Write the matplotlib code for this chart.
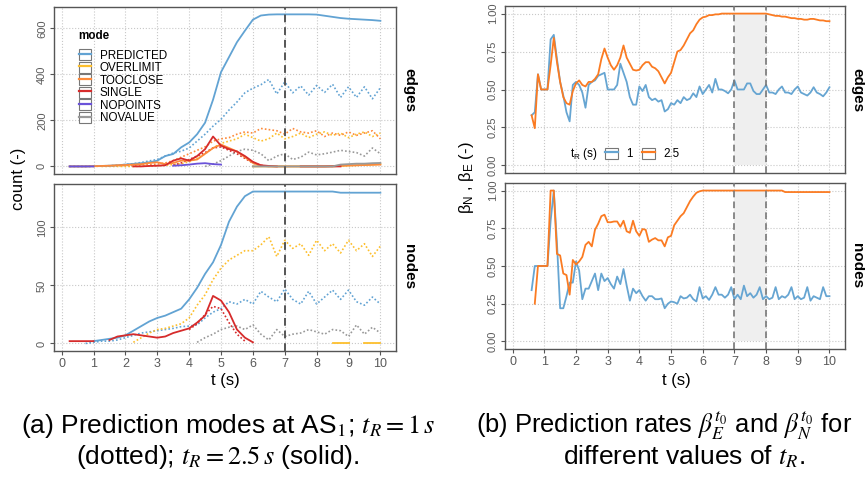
import numpy as np
import matplotlib
matplotlib.use("Agg")
import matplotlib.pyplot as plt
from matplotlib.lines import Line2D
from matplotlib.patches import Rectangle
from matplotlib.legend_handler import HandlerTuple

nan = np.nan

# ---------------- (a) prediction modes, sampled every 0.25 s ----------------
t_a = np.arange(0.25, 10.01, 0.25)

# edges, t_R = 2.5 s (solid)
edges_pred_solid = [0, 0, 0, 1, 2, 3, 5, 8,
                    11, 14, 18, 25, 45, 54, 83, 104,
                    140, 190, 290, 410, 475, 540, 590, 638,
                    656, 660, 661, 661, 661, 661, 661, 660,
                    655, 650, 645, 642, 640, 638, 636, 633]
edges_over_solid = [nan] * 23 + [0, 0, 0, 0, 0, 0, 0, 0, 0,
                                 0, 0, 2, 4, 5, 6, 8, 10]
edges_close_solid = [0, 0, 0, 1, 2, 3, 5, 6,
                     8, 10, 15, 18, 10, 15, 25, 25,
                     30, 55, 80, 95, 80, 65, 40, 15,
                     3, 0, 0, 0, 0, 0, 0, 0,
                     0, 2, 3, 4, 5, 6, 7, 8]
edges_single_solid = [nan] * 8 + [0, 0, 2, 3, 5, 25, 35, 25,
                                  45, 75, 130, 90, 75, 65, 45, 20,
                                  5, 2, 0, nan, nan, 0, 0, 0,
                                  0, 0, 0, nan, nan, nan, nan, nan]
edges_nopts_solid = [0, 0, 0, 0] + [nan] * 9 + [3, 5, 8, 12, 14, 10, 8] + [nan] * 20
edges_noval_solid = [nan] * 23 + [0, 0, 0, 0, 0, 0, 0, 0, 0,
                                  0, 0, 8, 10, 12, 12, 14, 15]

# edges, t_R = 1 s (dotted)
edges_pred_dot = [0, 0, 0, 1, 2, 3, 5, 8,
                  12, 17, 24, 30, 45, 58, 66, 80,
                  110, 140, 175, 205, 245, 280, 320, 340,
                  355, 378, 315, 367, 320, 350, 310, 352,
                  322, 357, 300, 346, 300, 346, 294, 342]
edges_over_dot = [nan, nan, nan, nan, 0, 0, 0, 0,
                  0, 1, 2, 3, 5, 8, 12, 20,
                  35, 55, 80, 100, 110, 120, 140, 125,
                  110, 120, 145, 120, 130, 145, 125, 140,
                  150, 135, 145, 125, 140, 150, 130, 145]
edges_close_dot = [0, 0, 0, 0, 1, 2, 3, 4,
                   5, 6, 8, 10, 15, 25, 40, 55,
                   70, 85, 110, 120, 125, 140, 150, 145,
                   165, 160, 155, 140, 165, 150, 145, 155,
                   130, 145, 135, 150, 135, 145, 155, 120]
edges_single_dot = [nan] * 13 + [5, 15, 30, 45, 60, 80, 85, 70, 55, 35, 15,
                                 5, 0] + [nan] * 14
edges_noval_dot = [nan] * 17 + [0, 10, 25, 45, 65, 75, 70,
                                55, 25, 45, 55, 30, 40, 62, 50,
                                55, 62, 70, 65, 60, 45, 80, 55]

# nodes, t_R = 2.5 s (solid)
nodes_pred_solid = [nan, nan, nan, 2, 3, 4, 5, 7,
                    11, 15, 19, 22, 24, 27, 30, 38,
                    48, 60, 70, 85, 105, 118, 127, 131,
                    131, 131, 131, 131, 131, 131, 131, 131,
                    131, 131, 130, 130, 130, 130, 130, 130]
nodes_over_solid = [nan] * 33 + [0, 0, 0, nan, 0, 0, 0]
nodes_single_solid = [2, 2, 2, 2, nan, 3, 6, 7,
                      8, 7, 6, 5, 6, 9, 11, 13,
                      18, 24, 41, 37, 27, 12, 5, 1] + [nan] * 16

# nodes, t_R = 1 s (dotted)
nodes_pred_dot = [nan, nan, 0, 1, 2, 2, 3, 5,
                  7, 9, 10, 11, 12, 13, 14.5, 15,
                  16, 22, 27, 30, 36, 34, 38, 34,
                  45, 40, 36, 47, 38, 34, 45, 34,
                  40, 46, 38, 46, 36, 33, 40, 34]
nodes_over_dot = [nan] * 8 + [1, 5, 9, 12, 13, 15, 17, 22,
                              33, 42, 55, 65, 72, 76, 80, 80,
                              85, 92, 75, 89, 82, 86, 76, 89,
                              80, 86, 78, 89, 80, 86, 75, 84]
nodes_single_dot = [nan] * 15 + [12, 17, 25, 32, 30, 18, 8, 2] + [nan] * 17
nodes_noval_dot = [nan] * 16 + [1, 5, 8, 12, 14, 15, 12, 16,
                                8, 3, 12, 6, 8, 9, 12, 10,
                                8, 12, 11, 6, 16, 8, 14, 9]

modes = ["PREDICTED", "OVERLIMIT", "TOOCLOSE", "SINGLE", "NOPOINTS", "NOVALUE"]
mode_colors = ["#62a3d3", "#fdbf2d", "#fd8a3a", "#d62b2b", "#6a52d9", "#999999"]

# ---------------- (b) prediction rates, sampled every 0.1 s ----------------
t_b = np.arange(0.6, 10.01, 0.1)

edges_rate_1 = [0.33, 0.35, 0.60, 0.50, 0.50, 0.50, 0.83, 0.86, 0.70, 0.55,
                0.46, 0.35, 0.29, 0.53, 0.55, 0.53, 0.48, 0.38, 0.53, 0.55,
                0.56, 0.59, 0.60, 0.61, 0.50, 0.50, 0.50, 0.53, 0.67, 0.61,
                0.55, 0.45, 0.40, 0.40, 0.52, 0.49, 0.53, 0.45, 0.43, 0.44,
                0.42, 0.43, 0.355, 0.37, 0.41, 0.40, 0.43, 0.41, 0.45, 0.43,
                0.44, 0.475, 0.45, 0.52, 0.47, 0.50, 0.53, 0.48, 0.57, 0.50,
                0.50, 0.49, 0.475, 0.50, 0.56, 0.50, 0.50, 0.50, 0.54, 0.54,
                0.49, 0.47, 0.47, 0.50, 0.53, 0.48, 0.48, 0.47, 0.50, 0.52,
                0.48, 0.48, 0.47, 0.50, 0.52, 0.48, 0.47, 0.46, 0.48, 0.515,
                0.48, 0.47, 0.455, 0.48, 0.515]
edges_rate_25 = [0.33, 0.245, 0.60, 0.50, 0.50, 0.50, 0.66, 0.84, 0.68, 0.55,
                 0.45, 0.41, 0.40, 0.49, 0.54, 0.56, 0.53, 0.52, 0.55, 0.55,
                 0.57, 0.60, 0.70, 0.77, 0.71, 0.66, 0.63, 0.66, 0.71, 0.79,
                 0.71, 0.67, 0.63, 0.625, 0.63, 0.66, 0.68, 0.68, 0.65, 0.64,
                 0.62, 0.58, 0.54, 0.58, 0.61, 0.68, 0.75, 0.76, 0.79, 0.83,
                 0.87, 0.89, 0.93, 0.96, 0.975, 0.98, 0.99, 0.99, 0.995, 0.995,
                 1.0, 1.0, 1.0, 1.0, 1.0, 1.0, 1.0, 1.0, 1.0, 1.0,
                 1.0, 1.0, 1.0, 1.0, 1.0, 0.995, 0.99, 0.985, 0.985, 0.98,
                 0.98, 0.975, 0.97, 0.97, 0.965, 0.965, 0.96, 0.96, 0.965, 0.965,
                 0.96, 0.955, 0.955, 0.95, 0.95]
nodes_rate_1 = [0.34, 0.50, 0.50, 0.50, 0.50, 0.50, 0.80, 1.0, 0.65, 0.22,
                0.22, 0.30, 0.39, 0.39, 0.53, 0.47, 0.28, 0.35, 0.35, 0.40,
                0.45, 0.34, 0.45, 0.40, 0.42, 0.38, 0.35, 0.43, 0.38, 0.48,
                0.37, 0.27, 0.35, 0.32, 0.34, 0.30, 0.27, 0.30, 0.30, 0.28,
                0.28, 0.285, 0.22, 0.25, 0.265, 0.26, 0.25, 0.30, 0.285, 0.29,
                0.31, 0.28, 0.265, 0.36, 0.285, 0.30, 0.275, 0.31, 0.36, 0.31,
                0.31, 0.29, 0.31, 0.36, 0.28, 0.31, 0.28, 0.37, 0.30, 0.32,
                0.29, 0.31, 0.36, 0.28, 0.30, 0.28, 0.29, 0.36, 0.28, 0.30,
                0.29, 0.31, 0.36, 0.28, 0.30, 0.28, 0.29, 0.36, 0.27, 0.30,
                0.29, 0.28, 0.36, 0.30, 0.30]
nodes_rate_25 = [nan, 0.25, 0.50, 0.50, 0.50, 0.50, 1.0, 1.0, 0.58, 0.57,
                 0.45, 0.44, 0.31, 0.54, 0.51, 0.53, 0.56, 0.64, 0.66, 0.63,
                 0.74, 0.78, 0.83, 0.84, 0.79, 0.79, 0.795, 0.795, 0.76, 0.80,
                 0.73, 0.72, 0.80, 0.73, 0.70, 0.745, 0.74, 0.66, 0.675, 0.685,
                 0.67, 0.67, 0.63, 0.69, 0.70, 0.77, 0.80, 0.83, 0.85, 0.89,
                 0.93, 0.96, 0.985, 0.995, 1.0, 1.0, 1.0, 1.0, 1.0, 1.0,
                 1.0, 1.0, 1.0, 1.0, 1.0, 1.0, 1.0, 1.0, 1.0, 1.0,
                 1.0, 1.0, 1.0, 1.0, 1.0, 1.0, 1.0, 1.0, 1.0, 1.0,
                 0.99, 0.99, 0.99, 0.99, 0.99, 0.99, 0.99, 0.99, 0.99, 0.99,
                 0.99, 0.99, 0.99, 0.99, 0.99]
rate_labels = ["1", "2.5"]
rate_colors = ["#66a5d2", "#fb7b22"]

# ---------------- figure ----------------
plt.rcParams["font.family"] = ["Liberation Sans", "DejaVu Sans"]
plt.rcParams["mathtext.fontset"] = "custom"
plt.rcParams["mathtext.rm"] = "Liberation Sans"
plt.rcParams["mathtext.it"] = "Liberation Sans:italic"

W, H = 865, 479
fig = plt.figure(figsize=(W / 100, H / 100), dpi=100)


def px_axes(x0, y0, x1, y1):
    return fig.add_axes([x0 / W, 1 - y1 / H, (x1 - x0) / W, (y1 - y0) / H])


def px_text(x, y, s, **kw):
    return fig.text(x / W, 1 - y / H, s, **kw)


def style(ax, yticks, ylabels, ylim, bottom):
    ax.set_xlim(-0.24, 10.49)
    ax.set_ylim(*ylim)
    ax.set_xticks(range(11))
    ax.set_yticks(yticks)
    ax.set_yticklabels(ylabels, rotation=90, va="center")
    ax.grid(True, color="#c8c8c8", linestyle=":", linewidth=0.8)
    ax.set_axisbelow(True)
    for sp in ax.spines.values():
        sp.set_color("#555555")
        sp.set_linewidth(1.0)
    ax.tick_params(axis="y", length=3, color="#555555", labelcolor="#5a5a5a",
                   labelsize=8, pad=2)
    ax.tick_params(axis="x", length=3, color="#555555", labelcolor="#5a5a5a",
                   labelsize=9, pad=2)
    if not bottom:
        ax.tick_params(axis="x", length=0, labelbottom=False)


dotted = (0, (1, 1.3))

# panel (a)
ax_e = px_axes(54, 7, 396, 174)
ax_n = px_axes(54, 184, 396, 351)
facets_a = [
    (ax_e, [edges_pred_dot, edges_over_dot, edges_close_dot, edges_single_dot, None, edges_noval_dot],
     [edges_pred_solid, edges_over_solid, edges_close_solid, edges_single_solid, edges_nopts_solid,
      edges_noval_solid]),
    (ax_n, [nodes_pred_dot, nodes_over_dot, None, nodes_single_dot, None, nodes_noval_dot],
     [nodes_pred_solid, nodes_over_solid, None, nodes_single_solid, None, None]),
]
for ax, dots, solids in facets_a:
    for vals, c in zip(dots, mode_colors):
        if vals is not None:
            ax.plot(t_a, vals, color=c, lw=1.2, ls=dotted, zorder=2)
    for vals, c in zip(solids, mode_colors):
        if vals is not None:
            ax.plot(t_a, vals, color=c, lw=1.3, zorder=3)
    ax.axvline(7, color="#555555", lw=1.4, ls=(0, (4, 2.5)), zorder=4)

style(ax_e, [0, 200, 400, 600], ["0", "200", "400", "600"], (-33, 693), False)
style(ax_n, [0, 50, 100], ["0", "50", "100"], (-6.5, 137.5), True)

handles = [(Rectangle((0, 0), 1, 1, facecolor="white", edgecolor="#777777", lw=0.8),
            Line2D([], [], color=c, lw=1.6)) for c in mode_colors]
leg = ax_e.legend(handles, modes, handler_map={tuple: HandlerTuple(ndivide=1, pad=0)},
                  loc="upper left", bbox_to_anchor=(0.055, 0.897), frameon=False,
                  fontsize=8.4, handlelength=1.1, handleheight=1.1, labelspacing=0.0,
                  handletextpad=0.7, borderpad=0, title="mode", alignment="left",
                  title_fontproperties={"weight": "bold", "size": 8.4})
leg._legend_box.sep = 5

# panel (b)
ax_be = px_axes(505, 6, 845, 173)
ax_bn = px_axes(505, 183, 845, 349)
for ax, r1, r25 in [(ax_be, edges_rate_1, edges_rate_25), (ax_bn, nodes_rate_1, nodes_rate_25)]:
    ax.fill_between([7, 8], 0, 1, color="#efefef", lw=0, zorder=1)
    ax.plot(t_b, r1, color=rate_colors[0], lw=1.3, zorder=3)
    ax.plot(t_b, r25, color=rate_colors[1], lw=1.3, zorder=3)
    for xv in (7, 8):
        ax.axvline(xv, color="#777777", lw=1.2, ls=(0, (4, 2.5)), zorder=4)
    style(ax, [0, 0.25, 0.5, 0.75, 1.0], ["0.00", "0.25", "0.50", "0.75", "1.00"],
          (-0.05, 1.05), ax is ax_bn)

rate_handles = [(Rectangle((0, 0), 1, 1, facecolor="white", edgecolor="#777777", lw=0.8),
                 Line2D([], [], color=c, lw=1.6)) for c in rate_colors]
ax_be.legend(rate_handles, rate_labels, handler_map={tuple: HandlerTuple(ndivide=1, pad=0)},
             loc="center left", bbox_to_anchor=(0.278, 0.115), frameon=False, ncol=2,
             fontsize=8.4, handlelength=1.1, handleheight=1.1, handletextpad=0.7,
             columnspacing=0.8, borderpad=0)
px_text(570, 154, r"$\mathrm{t_R}$ (s)", fontsize=8.4, ha="left", va="center")

# facet strips and axis titles
for x, y, s in [(409, 90, "edges"), (409, 267, "nodes"), (857, 90, "edges"), (857, 266, "nodes")]:
    px_text(x, y, s, rotation=-90, fontsize=11, fontweight="bold", ha="center", va="center")
px_text(19, 179, "count (-)", rotation=90, fontsize=12, ha="center", va="center")
px_text(467, 178, r"β$_\mathrm{N}$ , β$_\mathrm{E}$ (-)", rotation=90, fontsize=12,
        ha="center", va="center")
px_text(225, 381, "t (s)", fontsize=12, ha="center", va="center")
px_text(676, 380, "t (s)", fontsize=12, ha="center", va="center")

# captions
cap = dict(fontsize=19, math_fontfamily="stix", va="center")
px_text(228, 426, r"(a) Prediction modes at AS$_1$; $t_R = 1\,s$", ha="center", **cap)
px_text(218, 457, r"(dotted); $t_R = 2.5\,s$ (solid).", ha="center", **cap)
px_text(476, 426, r"(b) Prediction rates $\beta_E^{t_0}$ and $\beta_N^{t_0}$ for", ha="left",
        **dict(cap, fontsize=18.4))
px_text(684, 457, r"different values of $t_R$.", ha="center", **cap)

fig.savefig("out.png", dpi=100)
